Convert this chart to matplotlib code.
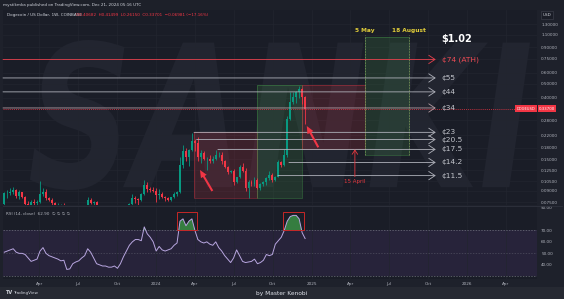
import datetime as dt
import numpy as np
import matplotlib
matplotlib.use('Agg')
import matplotlib.pyplot as plt
import matplotlib.dates as mdates
from matplotlib.patches import Rectangle, PathPatch
from matplotlib.textpath import TextPath
from matplotlib.font_manager import FontProperties
from matplotlib.transforms import Affine2D
from matplotlib.ticker import NullLocator

W, H = 564, 299

# weekly DOGE/USD candles, week of 9 Jan 2023 .. week of 16 Dec 2024
first_week = dt.date(2023, 1, 9)
opens = [0.0727, 0.0866, 0.0870, 0.0890, 0.0920, 0.0830, 0.0880, 0.0810, 0.0730, 0.0710,
         0.0750, 0.0740, 0.0750, 0.0850, 0.0890, 0.0800, 0.0780, 0.0740, 0.0710, 0.0720,
         0.0720, 0.0710, 0.0620, 0.0620, 0.0670, 0.0670, 0.0660, 0.0700, 0.0700, 0.0780,
         0.0740, 0.0750, 0.0630, 0.0630, 0.0630, 0.0620, 0.0620, 0.0610, 0.0630, 0.0610,
         0.0600, 0.0620, 0.0680, 0.0730, 0.0800, 0.0790, 0.0780, 0.0850, 0.0990, 0.0930,
         0.0910, 0.0900, 0.0840, 0.0850, 0.0810, 0.0800, 0.0780, 0.0810, 0.0850, 0.0880,
         0.1370, 0.1700, 0.1550, 0.1720, 0.2000, 0.1950, 0.1550, 0.1650, 0.1500, 0.1510,
         0.1450, 0.1510, 0.1600, 0.1600, 0.1450, 0.1330, 0.1220, 0.1240, 0.1030, 0.1120,
         0.1330, 0.1240, 0.0950, 0.1040, 0.1000, 0.1080, 0.0950, 0.1000, 0.1030, 0.1100,
         0.1170, 0.1070, 0.1130, 0.1420, 0.1360, 0.1600, 0.2850, 0.3750, 0.4050, 0.4380,
         0.4610, 0.4068]
highs = [0.0880, 0.0910, 0.0940, 0.0960, 0.0930, 0.0920, 0.0890, 0.0830, 0.0760, 0.0780,
         0.0790, 0.0780, 0.1050, 0.0940, 0.0930, 0.0820, 0.0800, 0.0750, 0.0740, 0.0730,
         0.0740, 0.0720, 0.0640, 0.0690, 0.0700, 0.0700, 0.0720, 0.0720, 0.0820, 0.0800,
         0.0770, 0.0770, 0.0650, 0.0680, 0.0640, 0.0630, 0.0630, 0.0640, 0.0650, 0.0620,
         0.0630, 0.0710, 0.0740, 0.0850, 0.0830, 0.0800, 0.0870, 0.1070, 0.1030, 0.0960,
         0.0960, 0.0940, 0.0930, 0.0880, 0.0830, 0.0820, 0.0820, 0.0890, 0.0900, 0.1550,
         0.1870, 0.1790, 0.1760, 0.2280, 0.2080, 0.2120, 0.1720, 0.1700, 0.1550, 0.1590,
         0.1580, 0.1740, 0.1670, 0.1680, 0.1470, 0.1340, 0.1260, 0.1270, 0.1130, 0.1360,
         0.1400, 0.1300, 0.1070, 0.1080, 0.1120, 0.1100, 0.1020, 0.1050, 0.1120, 0.1240,
         0.1190, 0.1150, 0.1480, 0.1460, 0.1770, 0.2970, 0.4380, 0.4380, 0.4430, 0.4840,
         0.4650, 0.4150]
lows = [0.0716, 0.0800, 0.0840, 0.0850, 0.0800, 0.0790, 0.0800, 0.0710, 0.0640, 0.0690,
        0.0720, 0.0710, 0.0740, 0.0830, 0.0780, 0.0760, 0.0720, 0.0680, 0.0700, 0.0700,
        0.0700, 0.0580, 0.0590, 0.0610, 0.0630, 0.0650, 0.0620, 0.0690, 0.0690, 0.0730,
        0.0720, 0.0600, 0.0610, 0.0620, 0.0610, 0.0580, 0.0610, 0.0610, 0.0610, 0.0580,
        0.0590, 0.0610, 0.0660, 0.0720, 0.0740, 0.0720, 0.0760, 0.0840, 0.0880, 0.0880,
        0.0880, 0.0750, 0.0790, 0.0800, 0.0760, 0.0770, 0.0770, 0.0800, 0.0830, 0.0870,
        0.1300, 0.1450, 0.1350, 0.1700, 0.1700, 0.1450, 0.1400, 0.1480, 0.1250, 0.1410,
        0.1400, 0.1480, 0.1550, 0.1390, 0.1300, 0.1180, 0.1190, 0.0990, 0.1020, 0.1110,
        0.1210, 0.0900, 0.0800, 0.0980, 0.0980, 0.0930, 0.0920, 0.0970, 0.0990, 0.1070,
        0.1040, 0.1050, 0.1120, 0.1320, 0.1350, 0.1550, 0.2800, 0.3600, 0.3700, 0.4000,
        0.3600, 0.2615]
closes = [0.0866, 0.0870, 0.0890, 0.0920, 0.0830, 0.0880, 0.0810, 0.0730, 0.0710, 0.0750,
          0.0740, 0.0750, 0.0850, 0.0890, 0.0800, 0.0780, 0.0740, 0.0710, 0.0720, 0.0720,
          0.0710, 0.0620, 0.0620, 0.0670, 0.0670, 0.0660, 0.0700, 0.0700, 0.0780, 0.0740,
          0.0750, 0.0630, 0.0630, 0.0630, 0.0620, 0.0620, 0.0610, 0.0630, 0.0610, 0.0600,
          0.0620, 0.0680, 0.0730, 0.0800, 0.0790, 0.0780, 0.0850, 0.0990, 0.0930, 0.0910,
          0.0900, 0.0840, 0.0850, 0.0810, 0.0800, 0.0780, 0.0810, 0.0850, 0.0880, 0.1370,
          0.1700, 0.1550, 0.1720, 0.2000, 0.1950, 0.1550, 0.1650, 0.1500, 0.1510, 0.1450,
          0.1510, 0.1600, 0.1600, 0.1450, 0.1330, 0.1220, 0.1240, 0.1030, 0.1120, 0.1330,
          0.1240, 0.0950, 0.1040, 0.1000, 0.1080, 0.0950, 0.1000, 0.1030, 0.1100, 0.1170,
          0.1070, 0.1130, 0.1420, 0.1360, 0.1600, 0.2850, 0.3750, 0.4050, 0.4380, 0.4610,
          0.4068, 0.3370]
rsi = [51, 52, 53, 54, 51, 50, 50, 49, 46, 43,
       44, 45, 52, 55, 50, 48, 47, 46, 45, 43.5,
       44, 36, 36.5, 41, 42.5, 43.5, 46, 48, 54, 51,
       46, 41, 40, 39, 39, 38, 38, 39, 37, 41,
       47, 52, 57, 60, 62, 62, 61, 73, 67, 64,
       60, 52, 56, 53, 52, 53, 54, 57, 59, 78,
       80, 74, 78, 80, 70, 62, 60, 59, 60, 58,
       57, 60, 55, 52, 48, 45, 42, 46, 53, 48,
       43, 42, 42.5, 43, 45, 41, 42, 44, 49, 48,
       49, 58, 61, 64, 70, 78, 82, 83, 83, 80,
       68, 62.9]

price_ticks = [1.3, 1.1, 0.9, 0.75, 0.6, 0.5, 0.4, 0.28, 0.22, 0.18, 0.15, 0.125, 0.105, 0.09, 0.075]
rsi_ticks = [90, 70, 60, 50, 40]
time_ticks = ['2023-04-01', '2023-07-01', '2023-10-01', '2024-01-01', '2024-04-01', '2024-07-01',
              '2024-10-01', '2025-01-01', '2025-04-01', '2025-07-01', '2025-10-01', '2026-01-01', '2026-04-01']
time_labels = ['Apr', 'Jul', 'Oct', '2024', 'Apr', 'Jul', 'Oct', '2025', 'Apr', 'Jul', 'Oct', '2026', 'Apr']

# target levels drawn as arrows to the right
left_date = dt.date(2023, 1, 6)
right_date = dt.date(2026, 6, 14)
level_prices = [0.74, 0.55, 0.44, 0.34, 0.23, 0.205, 0.175, 0.142, 0.115]
level_labels = ['¢74 (ATH)', '¢55', '¢44', '¢34', '¢23', '¢20.5', '¢17.5', '¢14.2', '¢11.5']
level_starts = [left_date, left_date, left_date, left_date, dt.date(2024, 3, 30), dt.date(2024, 4, 5),
                dt.date(2024, 5, 25), dt.date(2024, 11, 8), dt.date(2024, 10, 13)]
level_end = dt.date(2025, 10, 19)
label_date = dt.date(2025, 11, 2)

# shaded zones
zone_starts = [dt.date(2024, 3, 30), dt.date(2024, 8, 24), dt.date(2024, 12, 8), dt.date(2025, 5, 5)]
zone_ends = [dt.date(2024, 8, 24), dt.date(2024, 12, 8), dt.date(2025, 5, 5), dt.date(2025, 8, 18)]
zone_lows = [0.080, 0.080, 0.175, 0.16]
zone_highs = [0.23, 0.49, 0.49, 1.055]
zone_kinds = ['red', 'green', 'red', 'green']

rsi_box_starts = [dt.date(2024, 2, 18), dt.date(2024, 10, 26)]
rsi_box_ends = [dt.date(2024, 4, 7), dt.date(2024, 12, 14)]

BG = '#1a1d27'
TXT = '#b2b5be'
GRID = '#22252f'
UP, DOWN = '#089981', '#f23645'

fig = plt.figure(figsize=(W / 100, H / 100), dpi=100)
fig.patch.set_facecolor('#1e212b')


def fx(px):
    return px / W


def fy(py):
    return 1 - py / H


# header and footer bars
fig.patches.append(Rectangle((0, fy(10)), 1, 10 / H, transform=fig.transFigure, fc='#1d2029', ec='none'))
fig.patches.append(Rectangle((0, 0), 1, 12 / H, transform=fig.transFigure, fc='#262932', ec='none'))
fig.text(fx(3), fy(5), 'mystikmka published on TradingView.com, Dec 21, 2024 05:16 UTC',
         fontsize=3, color='#d1d4dc', va='center')

ax = fig.add_axes([fx(3), fy(205), fx(534), 195 / H])
rx = fig.add_axes([fx(3), fy(279), fx(534), 72 / H], sharex=ax)
for a in (ax, rx):
    a.set_facecolor(BG)
    for s in a.spines.values():
        s.set_visible(False)

x = mdates.date2num([first_week + dt.timedelta(weeks=i) for i in range(len(closes))])
o = np.array(opens)
c = np.array(closes)
cols = np.where(c >= o, UP, DOWN)

# watermark
wm = TextPath((0, 0), 'SANKI', prop=FontProperties(family='DejaVu Sans', weight='bold', style='italic'))
ext = wm.get_extents()
tr = Affine2D().translate(-ext.x0, -ext.y0).scale(500 / ext.width, 150 / ext.height).translate(30, H - 190)
ax.add_patch(PathPatch(wm, transform=tr, fc='#222530', ec='none', zorder=0.5))

ax.set_yscale('log')
ax.set_ylim(0.0718, 1.634)
ax.set_xlim(mdates.date2num(left_date), mdates.date2num(right_date))

tick_x = mdates.date2num([dt.date.fromisoformat(t) for t in time_ticks])
for t in tick_x:
    ax.axvline(t, color=GRID, lw=0.5, zorder=0.6)
    rx.axvline(t, color=GRID, lw=0.5, zorder=0.6)
for p in price_ticks:
    ax.axhline(p, color=GRID, lw=0.5, zorder=0.6)

# zones
for s, e, lo, hi, k in zip(zone_starts, zone_ends, zone_lows, zone_highs, zone_kinds):
    x0, x1 = mdates.date2num(s), mdates.date2num(e)
    fc = '#f23645' if k == 'red' else '#4caf50'
    ax.add_patch(Rectangle((x0, lo), x1 - x0, hi - lo, fc=fc, alpha=0.16, ec='none', zorder=1))
    ax.add_patch(Rectangle((x0, lo), x1 - x0, hi - lo, fill=False, ec=fc, alpha=0.4, lw=0.6, zorder=1))

for d, lab in [(dt.date(2025, 5, 5), '5 May'), (dt.date(2025, 8, 18), '18 August')]:
    ax.vlines(mdates.date2num(d), 0.16, 1.095, colors='#8a9160', lw=0.5, linestyles=(0, (2, 2)), zorder=2)
    ax.text(mdates.date2num(d), 1.17, lab, color='#e3cf3a', fontsize=4.2, fontweight='bold',
            ha='center', va='center')

# candles
ax.vlines(x, lows, highs, colors=cols, lw=0.6, zorder=3)
ax.bar(x, np.abs(c - o), bottom=np.minimum(o, c), width=4.5, color=cols, lw=0, zorder=3)

# current price line
ax.axhline(closes[-1], color=DOWN, lw=0.5, ls=(0, (1.5, 1.5)), zorder=2)

# level arrows
for p, lab, s in zip(level_prices, level_labels, level_starts):
    ath = lab.endswith('(ATH)')
    lc = '#e8424e' if ath else ('#b39aa2' if p == 0.34 else '#b0b2bb')
    ax.annotate('', xy=(mdates.date2num(level_end), p), xytext=(mdates.date2num(s), p),
                arrowprops=dict(arrowstyle='->,head_length=0.45,head_width=0.3', color=lc, lw=0.6,
                                shrinkA=0, shrinkB=0), zorder=4)
    ax.text(mdates.date2num(label_date), p, lab, color='#ef4b55' if ath else '#c3c5cc',
            fontsize=5.4, va='center', ha='left', zorder=4)
ax.text(mdates.date2num(label_date), 1.02, '$1.02', color='white', fontsize=7,
        fontweight='bold', va='center', ha='left')

# red pointer arrows
pointer_tails = [(dt.date(2024, 5, 12), 0.0899), (dt.date(2025, 1, 16), 0.181)]
pointer_heads = [(dt.date(2024, 4, 13), 0.1258), (dt.date(2024, 12, 20), 0.2546)]
for (td, tp), (hd, hp) in zip(pointer_tails, pointer_heads):
    ax.annotate('', xy=(mdates.date2num(hd), hp), xytext=(mdates.date2num(td), tp),
                arrowprops=dict(arrowstyle='simple,head_length=0.9,head_width=0.8,tail_width=0.25',
                                fc='#f23645', ec='none', mutation_scale=6, shrinkA=0, shrinkB=0), zorder=5)

# 15 April marker
ax.annotate('', xy=(mdates.date2num(dt.date(2025, 4, 12)), 0.175),
            xytext=(mdates.date2num(dt.date(2025, 4, 12)), 0.113),
            arrowprops=dict(arrowstyle='->,head_length=0.3,head_width=0.2', color='#e53940', lw=0.6,
                            shrinkA=0, shrinkB=0), zorder=5)
ax.text(mdates.date2num(dt.date(2025, 4, 12)), 0.104, '15 April', color='#e53940', fontsize=4,
        ha='center', va='center')

# price axis
ax.yaxis.tick_right()
ax.yaxis.set_minor_locator(NullLocator())
ax.set_yticks(price_ticks)
ax.set_yticklabels(['%.5f' % p for p in price_ticks])
ax.tick_params(axis='y', labelsize=3, colors=TXT, length=0, pad=3)
ax.tick_params(axis='x', length=0, labelbottom=False)

fig.text(fx(7), fy(15), 'Dogecoin / US Dollar, 1W, COINBASE', fontsize=3, color='#d1d4dc', va='center')
fig.text(fx(76), fy(15), 'O0.40682  H0.41499  L0.26150  C0.33701  −0.06981 (−17.16%)',
         fontsize=3, color=DOWN, va='center')
fig.text(fx(547), fy(15), 'USD', fontsize=3, color='#d1d4dc', va='center', ha='center',
         bbox=dict(boxstyle='square,pad=0.4', fc='#1a1d27', ec='#3a3d48', lw=0.5))
fig.text(fx(526), fy(108.5), 'DOGEUSD', fontsize=2.6, color='white', va='center', ha='center',
         bbox=dict(boxstyle='square,pad=0.35', fc=DOWN, ec='none'))
fig.text(fx(547), fy(108.5), '%.5f' % closes[-1], fontsize=2.8, color='white', va='center', ha='center',
         bbox=dict(boxstyle='square,pad=0.35', fc=DOWN, ec='none'))

# RSI pane
rr = np.array(rsi, dtype=float)
rx.set_ylim(27.7, 90.3)
rx.axhspan(30, 70, color='#27233a', zorder=0.5, lw=0)
for lvl, al in [(70, 0.9), (50, 0.5), (30, 0.9)]:
    rx.axhline(lvl, color='#787b86', lw=0.5, ls=(0, (2, 2)), alpha=al, zorder=1)
rx.fill_between(x, 70, rr, where=rr >= 70, interpolate=True, color='#3b8f45', alpha=0.85, lw=0, zorder=2)
rx.plot(x, rr, color='#b8a6e0', lw=0.7, zorder=3)
for s, e in zip(rsi_box_starts, rsi_box_ends):
    x0, x1 = mdates.date2num(s), mdates.date2num(e)
    rx.add_patch(Rectangle((x0, 70), x1 - x0, 15.6, fill=False, ec='#c62828', lw=0.7, zorder=4))
rx.text(0.005, 0.9, 'RSI (14, close)  62.90  ∅ ∅ ∅ ∅', transform=rx.transAxes, fontsize=3,
        color=TXT, va='center')
rx.yaxis.tick_right()
rx.set_yticks(rsi_ticks)
rx.set_yticklabels(['%.2f' % v for v in rsi_ticks])
rx.tick_params(axis='y', labelsize=3, colors=TXT, length=0, pad=3)
rx.set_xticks(tick_x)
rx.set_xticklabels(time_labels)
rx.tick_params(axis='x', labelsize=3, colors=TXT, length=0, pad=2)

# pane separator
fig.add_artist(plt.Line2D([fx(3), fx(562)], [fy(206), fy(206)], color='#2e313c', lw=0.6))

fig.text(fx(6), fy(293), 'TV', fontsize=3.5, color='#d1d4dc', fontweight='bold', va='center')
fig.text(fx(13), fy(293), 'TradingView', fontsize=3, color='#d1d4dc', va='center')
fig.text(fx(282), fy(293), 'by Master Kenobi', fontsize=4.2, color='#e0e3eb', va='center', ha='center')

fig.savefig('out.png', dpi=100, facecolor=fig.get_facecolor())
